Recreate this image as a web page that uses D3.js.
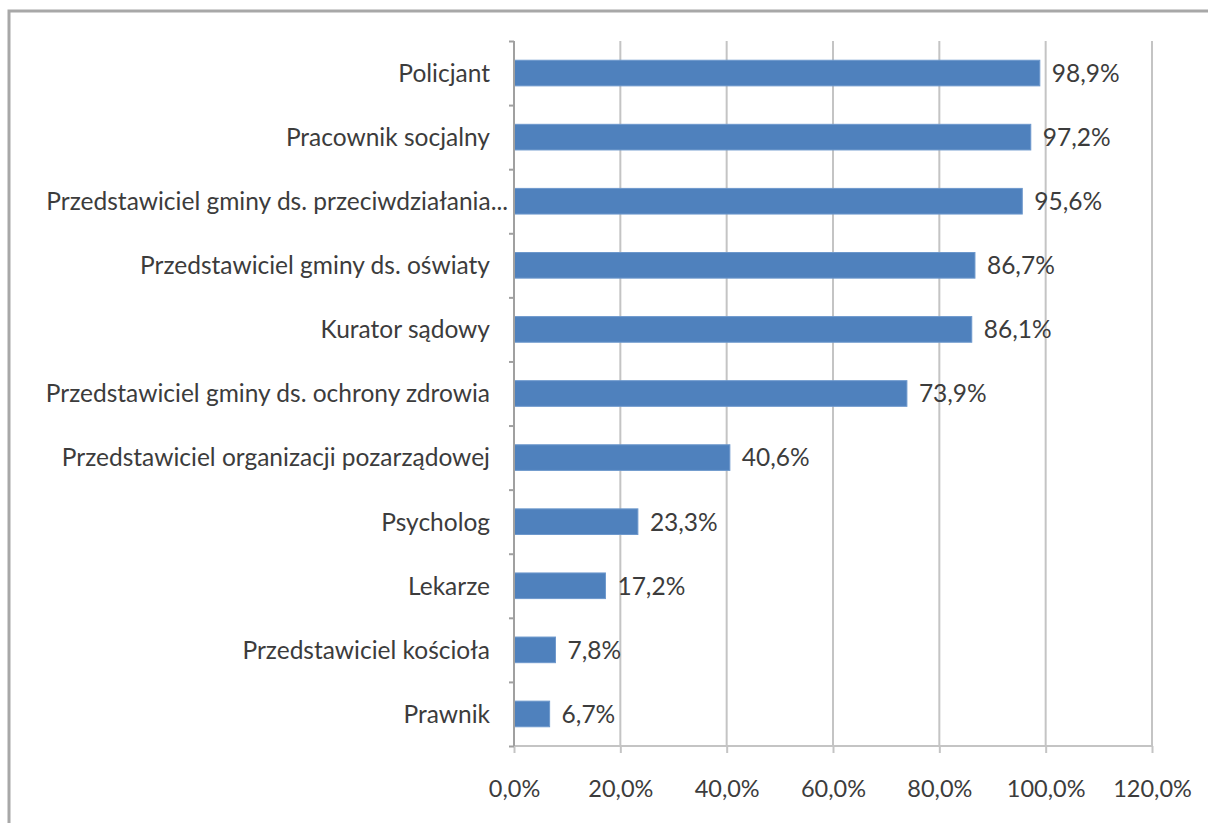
<!DOCTYPE html>
<html>
<head>
<meta charset="utf-8">
<script src="https://cdn.jsdelivr.net/npm/d3@7"></script>
<style>
  body { margin: 0; background: #fff; }
  svg { display: block; }
  text { font-family: Lato, "Liberation Sans", sans-serif; fill: #3c3c3c; }
</style>
</head>
<body>
<svg id="chart" width="1208" height="823"></svg>
<script>
// categories, top to bottom
const categories = [
	"Policjant",
	"Pracownik socjalny",
	"Przedstawiciel gminy ds. przeciwdziałania...",
	"Przedstawiciel gminy ds. oświaty",
	"Kurator sądowy",
	"Przedstawiciel gminy ds. ochrony zdrowia",
	"Przedstawiciel organizacji pozarządowej",
	"Psycholog",
	"Lekarze",
	"Przedstawiciel kościoła",
	"Prawnik"
];
const values = [98.9, 97.2, 95.6, 86.7, 86.1, 73.9, 40.6, 23.3, 17.2, 7.8, 6.7];
const xTicks = [0, 20, 40, 60, 80, 100, 120];

const svg = d3.select("#chart");

// outer frame
svg.append("rect")
	.attr("x", 9).attr("y", 11)
	.attr("width", 1240).attr("height", 840)
	.attr("fill", "none")
	.attr("stroke", "#a8a8a8")
	.attr("stroke-width", 3);

const plotL = 514, plotR = 1152, plotT = 41, plotB = 746;

let x = d3.scaleLinear()
	.domain([0, 120])
	.range([plotL, plotR]);

let y = d3.scaleBand()
	.domain(categories)
	.range([plotT, plotB])
	.paddingInner(0.6)
	.paddingOuter(0.3);

const fmt = v => d3.format(".1f")(v).replace(".", ",") + "%";

// gridlines
svg.append("g").selectAll("line")
	.data(xTicks.slice(1))
	.enter()
	.append("line")
	.attr("x1", d => x(d)).attr("x2", d => x(d))
	.attr("y1", plotT).attr("y2", plotB)
	.attr("stroke", "#c4c4c4")
	.attr("stroke-width", 2);

// bars
svg.append("g").selectAll("rect")
	.data(values)
	.enter()
	.append("rect")
	.attr("x", x(0))
	.attr("y", (d, i) => y(categories[i]))
	.attr("width", d => x(d) - x(0))
	.attr("height", y.bandwidth())
	.attr("fill", "#4f81bd")
	.attr("stroke", "#6d98cc")
	.attr("stroke-width", 1);

// value labels
svg.append("g").selectAll("text")
	.data(values)
	.enter()
	.append("text")
	.attr("x", d => x(d) + 12)
	.attr("y", (d, i) => y(categories[i]) + y.bandwidth() / 2)
	.attr("dy", "0.36em")
	.style("font-size", "24.5px")
	.text(d => fmt(d));

// x axis
const xAxis = d3.axisBottom(x)
	.tickValues(xTicks)
	.tickSize(7)
	.tickPadding(27)
	.tickFormat(d => fmt(d));
const gx = svg.append("g")
	.attr("transform", "translate(0," + plotB + ")")
	.call(xAxis);
gx.select(".domain").attr("stroke", "#c4c4c4").attr("stroke-width", 2)
	.attr("d", "M" + plotL + ",0H" + plotR);
gx.selectAll(".tick line").attr("stroke", "#c4c4c4").attr("stroke-width", 2);
gx.selectAll(".tick text").style("font-size", "23.5px").attr("fill", "#3c3c3c")
	.attr("font-family", null);

// y axis with ticks between categories
const yb = d3.scaleLinear().domain([0, categories.length]).range([plotT, plotB]);
const gy = svg.append("g")
	.attr("transform", "translate(" + plotL + ",0)")
	.call(d3.axisLeft(yb).ticks(categories.length).tickSize(5).tickFormat(""));
gy.select(".domain").attr("stroke", "#a0a0a0").attr("stroke-width", 2)
	.attr("d", "M0," + plotT + "V" + plotB);
gy.selectAll(".tick line").attr("stroke", "#a0a0a0").attr("stroke-width", 2);

// category labels (truncated label sits closer to the axis, like Excel does)
svg.append("g").selectAll("text")
	.data(categories)
	.enter()
	.append("text")
	.attr("x", d => plotL - (d.endsWith("...") ? 6 : 24))
	.attr("y", d => y(d) + y.bandwidth() / 2)
	.attr("dy", "0.36em")
	.attr("text-anchor", "end")
	.style("font-size", "24.5px")
	.text(d => d);
</script>
</body>
</html>
